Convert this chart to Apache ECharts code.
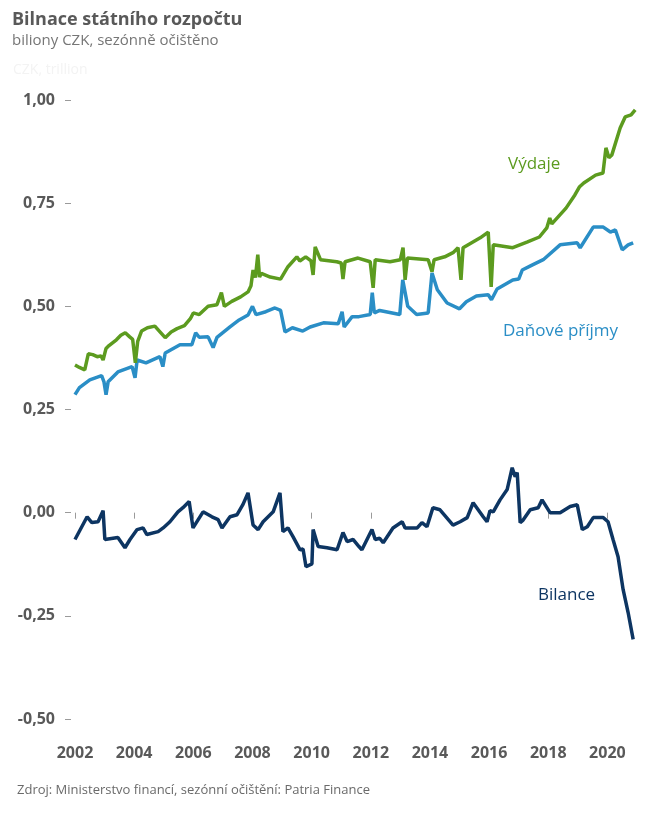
<!DOCTYPE html>
<html>
<head>
<meta charset="utf-8">
<script src="https://cdn.jsdelivr.net/npm/echarts@6/dist/echarts.min.js"></script>
<style>
html,body{margin:0;padding:0;background:#fff;}
#c{width:670px;height:819px;}
</style>
</head>
<body>
<div id="c"></div>
<script>
// Tick labels
var yearTicks = [2002, 2004, 2006, 2008, 2010, 2012, 2014, 2016, 2018, 2020];

// Výdaje (expenditures): decimal year, value (CZK trillion)
var vydajeT = [2002.00,2002.15,2002.33,2002.45,2002.6,2002.75,2002.88,2002.95,2003.05,2003.15,2003.4,2003.55,2003.7,2003.85,2003.95,2004.04,2004.12,2004.25,2004.45,2004.7,2004.85,2005.05,2005.25,2005.45,2005.7,2005.9,2006.0,2006.2,2006.5,2006.8,2006.95,2007.05,2007.3,2007.6,2007.85,2007.95,2008.02,2008.1,2008.18,2008.24,2008.3,2008.6,2008.95,2009.2,2009.5,2009.6,2009.8,2009.98,2010.05,2010.12,2010.3,2010.85,2011.0,2011.06,2011.13,2011.57,2011.98,2012.08,2012.15,2012.65,2013.0,2013.09,2013.16,2013.24,2013.94,2014.07,2014.14,2014.5,2014.78,2014.95,2015.05,2015.12,2015.7,2015.97,2016.07,2016.14,2016.8,2017.3,2017.7,2017.95,2018.05,2018.12,2018.6,2018.9,2019.05,2019.2,2019.6,2019.85,2019.95,2020.05,2020.15,2020.43,2020.6,2020.8,2020.94];
var vydajeV = [0.358,0.352,0.346,0.385,0.383,0.378,0.38,0.37,0.398,0.405,0.419,0.43,0.436,0.426,0.42,0.363,0.415,0.44,0.448,0.452,0.44,0.424,0.438,0.446,0.453,0.47,0.484,0.48,0.5,0.504,0.533,0.5,0.512,0.523,0.535,0.55,0.588,0.57,0.625,0.571,0.58,0.571,0.566,0.596,0.62,0.61,0.62,0.61,0.576,0.644,0.613,0.608,0.605,0.566,0.608,0.617,0.608,0.545,0.613,0.608,0.613,0.642,0.564,0.617,0.613,0.584,0.613,0.62,0.63,0.642,0.564,0.642,0.666,0.68,0.547,0.649,0.642,0.656,0.668,0.69,0.714,0.7,0.738,0.77,0.789,0.799,0.818,0.823,0.884,0.86,0.867,0.932,0.959,0.964,0.976];

// Daňové příjmy (tax revenues)
var prijmyT = [2002.0,2002.15,2002.5,2002.9,2002.98,2003.05,2003.12,2003.45,2003.93,2004.03,2004.1,2004.4,2004.87,2004.97,2005.05,2005.55,2005.95,2006.08,2006.2,2006.5,2006.67,2006.8,2007.24,2007.55,2007.85,2008.0,2008.12,2008.45,2008.76,2008.95,2009.1,2009.35,2009.7,2009.95,2010.4,2010.9,2011.03,2011.1,2011.37,2011.6,2011.98,2012.05,2012.12,2012.3,2012.98,2013.08,2013.25,2013.55,2013.94,2014.07,2014.25,2014.58,2015.0,2015.23,2015.57,2015.97,2016.08,2016.27,2016.8,2017.0,2017.12,2017.45,2017.83,2018.4,2018.98,2019.08,2019.52,2019.86,2020.1,2020.27,2020.5,2020.7,2020.87];
var prijmyV = [0.286,0.303,0.322,0.332,0.317,0.286,0.317,0.341,0.354,0.327,0.37,0.363,0.378,0.354,0.387,0.407,0.407,0.436,0.425,0.426,0.4,0.425,0.45,0.467,0.479,0.5,0.48,0.487,0.496,0.49,0.438,0.448,0.44,0.45,0.46,0.458,0.487,0.45,0.475,0.475,0.48,0.533,0.484,0.49,0.48,0.564,0.5,0.48,0.484,0.581,0.54,0.508,0.494,0.511,0.525,0.528,0.516,0.542,0.564,0.566,0.588,0.6,0.613,0.649,0.654,0.642,0.692,0.692,0.68,0.685,0.637,0.649,0.654];

// Bilance (balance)
var bilanceT = [2002.0,2002.41,2002.57,2002.78,2002.95,2003.01,2003.45,2003.69,2003.86,2004.1,2004.3,2004.43,2004.81,2004.98,2005.21,2005.48,2005.65,2005.86,2005.99,2006.33,2006.63,2006.84,2006.97,2007.24,2007.48,2007.68,2007.85,2008.02,2008.19,2008.36,2008.7,2008.93,2009.03,2009.2,2009.37,2009.61,2009.71,2009.81,2010.01,2010.05,2010.22,2010.52,2010.86,2011.06,2011.2,2011.4,2011.6,2011.7,2012.04,2012.15,2012.3,2012.42,2012.75,2013.06,2013.16,2013.57,2013.73,2013.9,2014.1,2014.34,2014.78,2015.02,2015.26,2015.46,2015.6,2015.8,2015.93,2016.03,2016.14,2016.37,2016.61,2016.78,2016.88,2016.95,2017.05,2017.15,2017.39,2017.66,2017.79,2018.06,2018.4,2018.74,2018.98,2019.15,2019.32,2019.52,2019.86,2020.02,2020.19,2020.36,2020.53,2020.7,2020.87];
var bilanceV = [-0.065,-0.01,-0.024,-0.022,0.005,-0.065,-0.06,-0.085,-0.065,-0.041,-0.037,-0.053,-0.046,-0.037,-0.022,0.002,0.012,0.027,-0.037,0.002,-0.01,-0.017,-0.037,-0.01,-0.005,0.02,0.048,-0.03,-0.041,-0.022,0.002,0.048,-0.046,-0.037,-0.058,-0.09,-0.088,-0.131,-0.124,-0.041,-0.082,-0.085,-0.09,-0.048,-0.07,-0.065,-0.082,-0.09,-0.041,-0.065,-0.062,-0.073,-0.037,-0.022,-0.037,-0.037,-0.024,-0.034,0.012,0.007,-0.03,-0.022,-0.012,0.024,0.01,-0.01,-0.022,0.005,0.002,0.031,0.056,0.109,0.087,0.097,-0.024,-0.018,0.007,0.012,0.031,0.0,0.0,0.015,0.019,-0.041,-0.034,-0.012,-0.012,-0.022,-0.065,-0.107,-0.186,-0.242,-0.307];

function zip(t, v){ return t.map(function(x,i){ return [x, v[i]]; }); }

var FONT = '"Open Sans", "Noto Sans", sans-serif';
var chart = echarts.init(document.getElementById('c'), null, {renderer:'canvas'});
chart.setOption({
  backgroundColor: '#ffffff',
  animation: false,
  title: {
    text: 'Bilnace státního rozpočtu',
    subtext: 'biliony CZK, sezónně očištěno',
    left: 7, top: 6,
    itemGap: 4,
    textStyle: {fontFamily: FONT, fontSize: 18, fontWeight: 'bold', color: '#595959'},
    subtextStyle: {fontFamily: FONT, fontSize: 15, color: '#767676'}
  },
  grid: {left: 71, right: 33, top: 100, bottom: 100, containLabel: false},
  xAxis: {
    type: 'value',
    min: 2001.865, max: 2021.0,
    offset: 14,
    axisLine: {show: false},
    splitLine: {show: false},
    axisTick: {show: true, length: 6, lineStyle: {color: '#9a9a9a', width: 1}, customValues: yearTicks},
    axisLabel: {
      customValues: yearTicks,
      margin: 12,
      fontFamily: FONT, fontSize: 16, fontWeight: 'bold', color: '#595959',
      formatter: function(v){ return String(v); }
    }
  },
  yAxis: {
    type: 'value',
    min: -0.5, max: 1.0, interval: 0.25,
    axisLine: {show: false},
    splitLine: {show: false},
    axisTick: {show: true, length: 6, lineStyle: {color: '#9a9a9a', width: 1}},
    axisLabel: {
      margin: 16,
      fontFamily: FONT, fontSize: 16, fontWeight: 'bold', color: '#595959',
      formatter: function(v){ return v.toFixed(2).replace('.', ','); }
    }
  },
  series: [
    {name: 'Výdaje', type: 'line', data: zip(vydajeT, vydajeV), showSymbol: false, lineStyle: {color: '#5c9b1f', width: 3.5}, itemStyle: {color: '#5c9b1f'}, z: 3},
    {name: 'Daňové příjmy', type: 'line', data: zip(prijmyT, prijmyV), showSymbol: false, lineStyle: {color: '#2a8ec6', width: 3.5}, itemStyle: {color: '#2a8ec6'}, z: 2},
    {name: 'Bilance', type: 'line', data: zip(bilanceT, bilanceV), showSymbol: false, lineStyle: {color: '#0d3562', width: 3.5}, itemStyle: {color: '#0d3562'}, z: 4}
  ],
  graphic: [
    {type: 'text', left: 13, top: 63, style: {text: 'CZK, trillion', font: '14px ' + FONT, fill: '#f3f3f3'}},
    {type: 'text', left: 508, top: 156, style: {text: 'Výdaje', font: '17px ' + FONT, fill: '#5c9b1f'}},
    {type: 'text', left: 503, top: 323, style: {text: 'Daňové příjmy', font: '17px ' + FONT, fill: '#2a8ec6'}},
    {type: 'text', left: 538, top: 587, style: {text: 'Bilance', font: '17px ' + FONT, fill: '#0d3562'}},
    {type: 'text', left: 17, top: 784, style: {text: 'Zdroj: Ministerstvo financí, sezónní očištění: Patria Finance', font: '13px ' + FONT, fill: '#6a6a6a'}}
  ]
});
</script>
</body>
</html>
